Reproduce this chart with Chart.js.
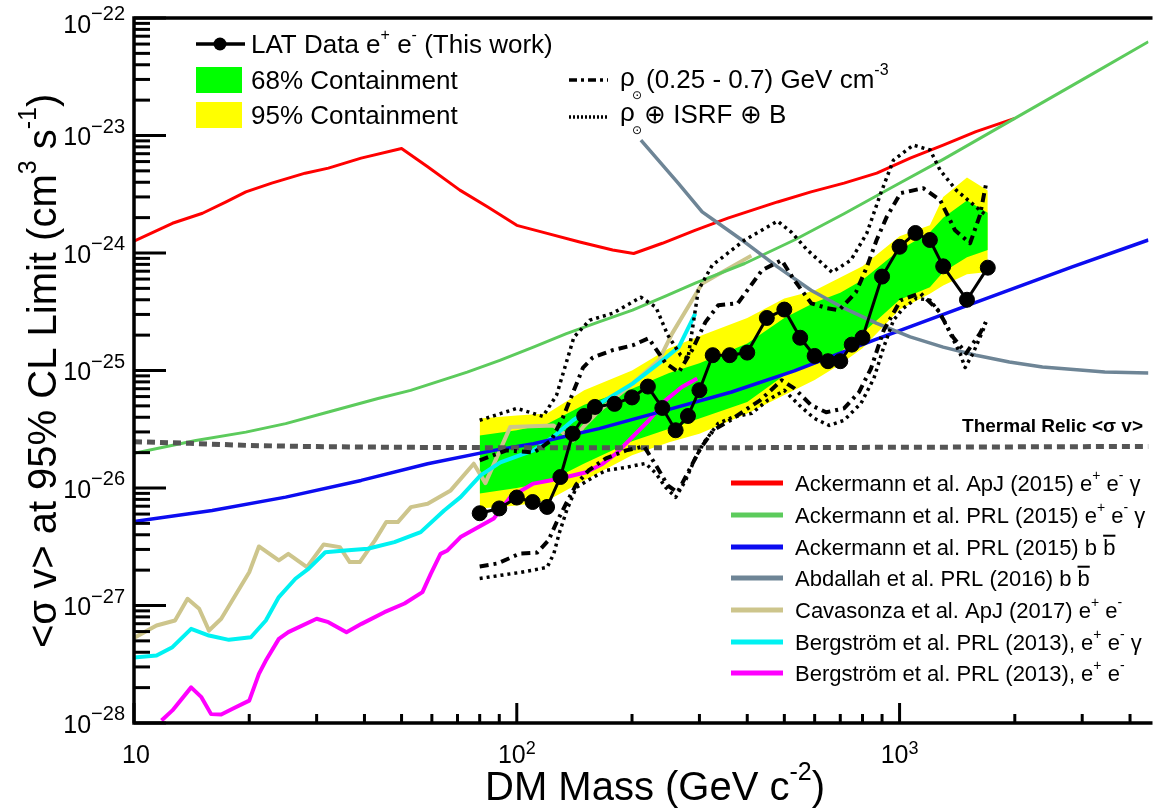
<!DOCTYPE html>
<html>
<head>
<meta charset="utf-8">
<script src="https://cdn.jsdelivr.net/npm/chart.js@4.4.1/dist/chart.umd.min.js"></script>
<style>
  html, body { margin: 0; padding: 0; background: #fff; }
  #wrap { width: 1157px; height: 808px; position: relative; }
</style>
</head>
<body>
<div id="wrap"><canvas id="c"></canvas></div>
<script>
// Límites <σv> frente a la masa de materia oscura.

// LAT data e+e- (this work)
const latMass  = [80, 90, 100, 110, 120, 130, 140, 150, 160, 180, 200, 220, 240, 260, 280, 300, 325, 360, 400, 450, 500, 550, 600, 650, 700, 750, 800, 900, 1000, 1100, 1200, 1300, 1500, 1700];
const latLimit = [6.1e-27, 6.7e-27, 8.3e-27, 7.6e-27, 6.9e-27, 1.24e-26, 2.9e-26, 4.1e-26, 4.9e-26, 5.2e-26, 5.9e-26, 7.3e-26, 4.8e-26, 3.1e-26, 4.1e-26, 6.8e-26, 1.35e-25, 1.35e-25, 1.42e-25, 2.8e-25, 3.3e-25, 1.9e-25, 1.33e-25, 1.2e-25, 1.2e-25, 1.66e-25, 1.9e-25, 6.3e-25, 1.13e-24, 1.48e-24, 1.29e-24, 7.7e-25, 4.0e-25, 7.5e-25];

// bandas de contención
const bandMass  = [80, 100, 120, 150, 200, 250, 300, 400, 500, 600, 700, 800, 1000, 1200, 1300, 1500, 1700];
const band95Hi  = [3.9e-26, 4.15e-26, 4.3e-26, 6.8e-26, 1.0e-25, 1.55e-25, 1.96e-25, 2.8e-25, 4.1e-25, 4.8e-25, 6.2e-25, 7.7e-25, 1.39e-24, 1.72e-24, 3.0e-24, 4.4e-24, 3.4e-24];
const band95Lo  = [6.7e-27, 7.1e-27, 7.8e-27, 1.16e-26, 1.9e-26, 2.45e-26, 2.9e-26, 4.3e-26, 6.2e-26, 8.3e-26, 1.13e-25, 1.55e-25, 3.3e-25, 4.5e-25, 5.3e-25, 6.6e-25, 6.9e-25];
const band68Hi  = [2.8e-26, 3.1e-26, 3.5e-26, 5.1e-26, 7.0e-26, 9.5e-26, 1.15e-25, 1.7e-25, 2.8e-25, 3.8e-25, 4.6e-25, 5.9e-25, 1.06e-24, 1.5e-24, 2.0e-24, 2.8e-24, 2.2e-24];
const band68Lo  = [9.0e-27, 1.0e-26, 1.12e-26, 1.62e-26, 2.5e-26, 3.2e-26, 3.9e-26, 5.4e-26, 9.1e-26, 1.17e-25, 1.43e-25, 2.07e-25, 4.0e-25, 5.1e-25, 6.9e-25, 9.2e-25, 1.06e-24];

// rho (0.25 - 0.7) GeV cm-3  (dash-dot)
const ddHiMass  = [80, 94, 111, 123, 132, 141, 149, 158, 178, 201, 221, 245, 265, 287, 311, 336, 378, 437, 492, 531, 588, 647, 695, 769, 821, 871, 925, 1006, 1153, 1276, 1396, 1528, 1622, 1680];
const ddHiLimit = [1.72e-26, 2.09e-26, 2.01e-26, 2.54e-26, 3.99e-26, 6.78e-26, 1.06e-25, 1.29e-25, 1.49e-25, 1.64e-25, 1.88e-25, 1.15e-25, 9.66e-26, 1.49e-25, 2.58e-25, 3.59e-25, 3.73e-25, 7.13e-25, 8.69e-25, 5.86e-25, 3.73e-25, 3.39e-25, 3.26e-25, 4.63e-25, 7.57e-25, 1.29e-24, 2.02e-24, 3.23e-24, 3.56e-24, 2.82e-24, 1.56e-24, 1.21e-24, 2.1e-24, 3.78e-24];
const ddLoMass  = [80, 89, 102, 113, 121, 127, 135, 143, 154, 171, 193, 215, 231, 248, 263, 280, 302, 326, 361, 394, 432, 492, 531, 588, 643, 716, 783, 842, 909, 1006, 1133, 1261, 1380, 1492, 1622, 1680];
const ddLoLimit = [2.15e-27, 2.28e-27, 2.77e-27, 2.82e-27, 3.58e-27, 5.09e-27, 7.53e-27, 1.07e-26, 1.41e-26, 1.79e-26, 2.09e-26, 2.26e-26, 1.56e-26, 1.05e-26, 9.18e-27, 1.36e-26, 2.17e-26, 3.1e-26, 3.77e-26, 4.58e-26, 5.57e-26, 8.26e-26, 7.05e-26, 5.06e-26, 4.41e-26, 4.76e-26, 6.52e-26, 1.04e-25, 2.2e-25, 3.96e-25, 4.55e-25, 3.26e-25, 1.92e-25, 1.4e-25, 2.07e-25, 2.58e-25];

// rho + ISRF + B  (dotted)
const dotHiMass  = [80, 100, 117, 127, 141, 155, 178, 211, 231, 248, 268, 280, 298, 324, 394, 480, 522, 574, 666, 746, 821, 893, 964, 1086, 1202, 1276, 1406, 1680];
const dotHiLimit = [3.77e-26, 4.76e-26, 4.07e-26, 6.15e-26, 1.92e-25, 2.68e-25, 3.07e-25, 4.2e-25, 3.45e-25, 2.0e-25, 1.35e-25, 1.27e-25, 4.82e-25, 7.87e-25, 1.29e-24, 1.87e-24, 1.5e-24, 1.06e-24, 6.86e-25, 8.69e-25, 1.47e-24, 3.23e-24, 6.17e-24, 8.28e-24, 7.52e-24, 5.07e-24, 3.43e-24, 2.1e-24];
const dotLoMass  = [80, 90, 102, 120, 125, 129, 135, 143, 158, 171, 193, 217, 231, 245, 260, 276, 293, 311, 336, 365, 411, 452, 500, 547, 598, 655, 716, 793, 857, 909, 964, 1023, 1107, 1202, 1276, 1355, 1439, 1483, 1556, 1652, 1680];
const dotLoLimit = [1.7e-27, 1.8e-27, 1.91e-27, 2.11e-27, 2.77e-27, 4.1e-27, 6.44e-27, 1.01e-26, 1.23e-26, 1.41e-26, 1.5e-26, 1.62e-26, 1.33e-26, 1.01e-26, 8.32e-27, 1.16e-26, 1.82e-26, 2.54e-26, 3.55e-26, 3.99e-26, 4.32e-26, 5.57e-26, 6.78e-26, 5.06e-26, 3.92e-26, 3.41e-26, 3.77e-26, 5.26e-26, 8.59e-26, 1.58e-25, 2.68e-25, 3.39e-25, 4.12e-25, 3.96e-25, 3.07e-25, 2.07e-25, 1.4e-25, 1.06e-25, 1.4e-25, 2.2e-25, 2.58e-25];

// Ackermann et al. ApJ (2015) e+e-γ
const redMass  = [10, 12.6, 15.1, 17.4, 19.6, 22.9, 28, 32.2, 39.2, 50, 58.5, 71, 84, 100, 120, 146, 178, 202, 240, 292, 356, 480, 587, 716, 872, 1066, 1300, 1583, 2000];
const redLimit = [1.26e-24, 1.79e-24, 2.18e-24, 2.72e-24, 3.31e-24, 3.93e-24, 4.78e-24, 5.28e-24, 6.42e-24, 7.76e-24, 5.41e-24, 3.43e-24, 2.46e-24, 1.72e-24, 1.47e-24, 1.24e-24, 1.06e-24, 9.9e-25, 1.21e-24, 1.56e-24, 1.98e-24, 2.72e-24, 3.31e-24, 3.93e-24, 4.78e-24, 6.42e-24, 8.28e-24, 1.08e-23, 1.4e-23];

// Ackermann et al. PRL (2015) e+e-γ
const greenMass  = [10, 14.5, 19.6, 24.9, 32.2, 43.4, 52.8, 74.2, 90.3, 110.5, 134.8, 164, 200.6, 244.6, 292.6, 394, 531, 716, 964, 1300, 2000, 3184, 4467];
const greenLimit = [1.97e-26, 2.54e-26, 2.99e-26, 3.53e-26, 4.43e-26, 5.77e-26, 6.78e-26, 9.7e-26, 1.22e-25, 1.58e-25, 2.06e-25, 2.59e-25, 3.26e-25, 4.29e-25, 5.53e-25, 8.14e-25, 1.29e-24, 2.16e-24, 3.68e-24, 6.27e-24, 1.4e-23, 3.33e-23, 6.28e-23];

// Ackermann et al. PRL (2015) b bbar
const blueMass  = [10, 16, 24.9, 39.2, 58.5, 87.1, 110.5, 164, 244.6, 364, 531, 857, 1556, 2825, 4467];
const blueLimit = [5.19e-27, 6.44e-27, 8.36e-27, 1.16e-26, 1.61e-26, 2.09e-26, 2.38e-26, 3.2e-26, 4.58e-26, 6.56e-26, 9.93e-26, 1.81e-25, 3.72e-25, 7.62e-25, 1.29e-24];

// Abdallah et al. PRL (2016) b bbar
const greyMass  = [211, 264, 305, 336, 394, 480, 587, 716, 872, 1066, 1300, 1583, 1935, 2362, 3436, 4467];
const greyLimit = [9.14e-24, 3.93e-24, 2.24e-24, 1.79e-24, 1.24e-24, 7.62e-25, 4.82e-25, 3.39e-25, 2.52e-25, 1.93e-25, 1.58e-25, 1.35e-25, 1.18e-25, 1.07e-25, 9.7e-26, 9.52e-26];

// Cavasonza et al. ApJ (2017) e+e-
const tanMass  = [10, 11.45, 12.8, 13.8, 14.8, 15.7, 16.9, 18.5, 20.0, 21.2, 23.9, 25.3, 28.3, 31.3, 34.5, 36.6, 38.9, 42.6, 45.6, 48.9, 52.9, 58.5, 67.2, 77.2, 82.8, 96.1, 124.5, 140.3, 149, 164.4, 200.6, 235, 254.5, 287, 305, 410];
const tanLimit = [5.3e-28, 6.76e-28, 7.45e-28, 1.14e-27, 9.38e-28, 6.12e-28, 7.71e-28, 1.26e-27, 1.92e-27, 3.18e-27, 2.42e-27, 2.75e-27, 2.12e-27, 3.31e-27, 3.14e-27, 2.34e-27, 2.34e-27, 3.58e-27, 5.13e-27, 5.13e-27, 6.87e-27, 7.35e-27, 9.54e-27, 1.61e-26, 1.1e-26, 3.3e-26, 3.41e-26, 2.54e-26, 3.3e-26, 4.58e-26, 7.73e-26, 1.22e-25, 2.06e-25, 3.96e-25, 5.5e-25, 9.5e-25];

// Bergström et al. PRL (2013) e+e-γ
const cyanMass  = [10, 11.45, 12.6, 14.1, 15.7, 17.7, 20.2, 22.1, 23.9, 26.4, 28.6, 31.6, 35.6, 40.8, 47.9, 56.1, 64.6, 71.3, 80.4, 90.6, 110.5, 124.4, 140.2, 164.4, 200.6, 235, 265, 292.6];
const cyanLimit = [3.61e-28, 3.75e-28, 4.42e-28, 6.33e-28, 5.55e-28, 5.1e-28, 5.37e-28, 7.45e-28, 1.18e-27, 1.69e-27, 2.06e-27, 2.84e-27, 2.94e-27, 3.04e-27, 3.46e-27, 4.21e-27, 6.44e-27, 8.36e-27, 1.28e-26, 1.65e-26, 2.09e-26, 2.72e-26, 3.77e-26, 5.22e-26, 7.73e-26, 1.15e-25, 1.58e-25, 3.05e-25];

// Bergström et al. PRL (2013) e+e-
const magMass  = [11.8, 12.6, 14.1, 15.0, 15.9, 16.9, 18.1, 20.0, 21.2, 22.1, 23.9, 25.3, 30.0, 32.2, 35.9, 39.3, 45.1, 50.9, 56.7, 59.6, 63.2, 65.9, 71.3, 87.1, 96.1, 110.5, 122, 134.8, 151.8, 167.7, 181.6, 200.6, 221.5, 244.6, 270, 296];
const magLimit = [1.05e-28, 1.28e-28, 2.01e-28, 1.66e-28, 1.19e-28, 1.18e-28, 1.32e-28, 1.55e-28, 2.62e-28, 3.4e-28, 5.2e-28, 5.93e-28, 7.71e-28, 7.21e-28, 5.93e-28, 6.98e-28, 8.77e-28, 1.04e-27, 1.3e-27, 1.86e-27, 2.75e-27, 2.94e-27, 3.82e-27, 5.51e-27, 8.36e-27, 1.09e-26, 1.16e-26, 1.24e-26, 1.36e-26, 1.61e-26, 1.96e-26, 2.72e-26, 3.77e-26, 5.57e-26, 7.23e-26, 8.53e-26];

// Thermal relic <σv>
const relicMass  = [10, 14, 20, 30, 50, 100, 300, 1000, 4467];
const relicLimit = [2.48e-26, 2.4e-26, 2.3e-26, 2.25e-26, 2.22e-26, 2.2e-26, 2.2e-26, 2.22e-26, 2.26e-26];

// ejes
const xTicks    = [10, 100, 1000];
const xTickExps = ['', '2', '3'];
const yTicks    = [1e-28, 1e-27, 1e-26, 1e-25, 1e-24, 1e-23, 1e-22];
const yTickExps = ['\u221228', '\u221227', '\u221226', '\u221225', '\u221224', '\u221223', '\u221222'];

// leyenda inferior: [texto, tipo] (tipo: sup / bar)
const refLabels = [
  [['Ackermann et al. ApJ (2015) e'], ['+', 'sup'], [' e'], ['-', 'sup'], [' \u03b3']],
  [['Ackermann et al. PRL (2015) e'], ['+', 'sup'], [' e'], ['-', 'sup'], [' \u03b3']],
  [['Ackermann et al. PRL (2015) b '], ['b', 'bar']],
  [['Abdallah et al. PRL (2016) b '], ['b', 'bar']],
  [['Cavasonza et al. ApJ (2017) e'], ['+', 'sup'], [' e'], ['-', 'sup']],
  [['Bergstr\u00f6m et al. PRL (2013), e'], ['+', 'sup'], [' e'], ['-', 'sup'], [' \u03b3']],
  [['Bergstr\u00f6m et al. PRL (2013), e'], ['+', 'sup'], [' e'], ['-', 'sup']]
];
const refColors = ['#ff0000', '#5ccb5c', '#0c0cf0', '#6e8596', '#cdc58c', '#00f2f2', '#ff00ff'];

const FONT = '"Liberation Sans", Arial, Helvetica, sans-serif';
const DASHDOT = [9, 5, 3, 5];
const DOTTED = [3, 4];

function pts(xs, ys) { return xs.map(function (x, i) { return { x: x, y: ys[i] }; }); }

function lineSet(label, xs, ys, color, width, order, dash) {
  return {
    label: label, data: pts(xs, ys),
    borderColor: color, backgroundColor: color, borderWidth: width,
    borderDash: dash || [], borderCapStyle: 'butt', borderJoinStyle: 'round',
    pointRadius: 0, fill: false, tension: 0, order: order
  };
}

function band(label, xs, ys, color, target, order) {
  return {
    label: label, data: pts(xs, ys), borderWidth: 0, borderColor: color,
    backgroundColor: color, pointRadius: 0, tension: 0, fill: target, order: order
  };
}

// texto con superíndices y barras
function rich(ctx, x, y, parts, size, draw) {
  var cx = x;
  parts.forEach(function (p) {
    var t = p[0], k = p[1], fs = size, dy = 0;
    if (k === 'sup') { fs = Math.round(size * 0.62); dy = -size * 0.5; }
    ctx.font = fs + 'px ' + FONT;
    var w = ctx.measureText(t).width;
    if (draw) {
      ctx.fillText(t, cx, y + dy);
      if (k === 'bar') ctx.fillRect(cx, y - size * 0.9, w, 2);
    }
    cx += w;
  });
  return cx - x;
}

const decor = {
  id: 'decor',
  afterDraw: function (chart) {
    var ctx = chart.ctx, a = chart.chartArea, sx = chart.scales.x, sy = chart.scales.y;
    ctx.save();
    ctx.fillStyle = '#000'; ctx.strokeStyle = '#000';
    ctx.textBaseline = 'alphabetic'; ctx.textAlign = 'left';

    // marco
    ctx.lineWidth = 3.5;
    ctx.beginPath();
    ctx.moveTo(a.right + 4, a.top); ctx.lineTo(a.left, a.top);
    ctx.lineTo(a.left, a.bottom); ctx.lineTo(a.right + 4, a.bottom);
    ctx.stroke();

    // marcas del eje y (hacia dentro)
    ctx.lineWidth = 3;
    yTicks.forEach(function (v) {
      for (var m = 1; m <= 9; m++) {
        var val = v * m;
        if (val > sy.max * 1.001) break;
        var py = sy.getPixelForValue(val);
        ctx.beginPath(); ctx.moveTo(a.left, py); ctx.lineTo(a.left + (m === 1 ? 32 : 16), py); ctx.stroke();
      }
    });
    // marcas del eje x
    xTicks.forEach(function (v) {
      for (var m = 1; m <= 9; m++) {
        var val = v * m;
        if (val > sx.max) break;
        var px = sx.getPixelForValue(val);
        ctx.beginPath(); ctx.moveTo(px, a.bottom); ctx.lineTo(px, a.bottom - (m === 1 ? 20 : 9)); ctx.stroke();
      }
    });

    // etiquetas del eje y
    yTicks.forEach(function (v, i) {
      var py = sy.getPixelForValue(v) + (i === yTicks.length - 1 ? 5 : 0);
      ctx.font = '20px ' + FONT; var we = ctx.measureText(yTickExps[i]).width;
      ctx.font = '25px ' + FONT; var wb = ctx.measureText('10').width;
      ctx.fillText('10', 125 - we - wb, py + 9.5);
      ctx.font = '20px ' + FONT; ctx.fillText(yTickExps[i], 125 - we, py - 3);
    });
    // etiquetas del eje x
    xTicks.forEach(function (v, i) {
      var px = sx.getPixelForValue(v);
      ctx.font = '18px ' + FONT; var we = ctx.measureText(xTickExps[i]).width;
      ctx.font = '25px ' + FONT; var wb = ctx.measureText('10').width;
      var x0 = px - (wb + we) / 2 + (i === 0 ? 2 : 0);
      ctx.fillText('10', x0, a.bottom + 40);
      ctx.font = '18px ' + FONT; ctx.fillText(xTickExps[i], x0 + wb, a.bottom + 31);
    });

    // títulos
    var xt = [['DM Mass (GeV c'], ['-2', 'sup'], [')']];
    var wx = rich(ctx, 0, 0, xt, 40, false);
    rich(ctx, 655 - wx / 2, 800, xt, 40, true);

    ctx.save();
    ctx.translate(56, 648); ctx.rotate(-Math.PI / 2);
    rich(ctx, 0, 0, [['<\u03c3 v> at 95% CL Limit (cm'], ['3', 'sup'], [' s'], ['-1', 'sup'], [')']], 40, true);
    ctx.restore();

    // leyenda superior izquierda
    ctx.lineWidth = 3.5;
    ctx.beginPath(); ctx.moveTo(196, 44); ctx.lineTo(245, 44); ctx.stroke();
    ctx.beginPath(); ctx.arc(220, 44, 6.5, 0, Math.PI * 2); ctx.fill();
    rich(ctx, 251, 53, [['LAT Data e'], ['+', 'sup'], [' e'], ['-', 'sup'], [' (This work)']], 26, true);
    ctx.fillStyle = '#00ff00'; ctx.fillRect(196, 67, 46, 26);
    ctx.fillStyle = '#ffff00'; ctx.fillRect(196, 102, 46, 26);
    ctx.fillStyle = '#000';
    rich(ctx, 251, 89, [['68% Containment']], 26, true);
    rich(ctx, 251, 124, [['95% Containment']], 26, true);

    // leyenda de perfiles
    ctx.lineWidth = 3.5;
    ctx.setLineDash([8, 4, 3, 4]);
    ctx.beginPath(); ctx.moveTo(569, 80); ctx.lineTo(608, 80); ctx.stroke();
    ctx.setLineDash([2, 2]);
    ctx.beginPath(); ctx.moveTo(569, 117); ctx.lineTo(608, 117); ctx.stroke();
    ctx.setLineDash([]);
    ctx.font = '26px ' + FONT; ctx.fillText('\u03c1', 620, 86);
    ctx.font = '12px "DejaVu Sans", sans-serif'; ctx.fillText('\u2299', 632, 99);
    rich(ctx, 646, 88, [['(0.25 - 0.7) GeV cm'], ['-3', 'sup']], 26, true);
    ctx.font = '26px ' + FONT; ctx.fillText('\u03c1', 620, 121);
    ctx.font = '12px "DejaVu Sans", sans-serif'; ctx.fillText('\u2299', 632, 134);
    rich(ctx, 644, 123, [['\u2295 ISRF \u2295 B']], 26, true);

    // reliquia térmica
    ctx.font = 'bold 19px ' + FONT; ctx.textAlign = 'right';
    ctx.fillText('Thermal Relic <\u03c3 v>', 1143, 432);
    ctx.textAlign = 'left';

    // leyenda inferior derecha
    var ly = [483, 515, 547, 578, 610, 642, 673];
    refLabels.forEach(function (lab, i) {
      ctx.strokeStyle = refColors[i]; ctx.lineWidth = 5;
      ctx.beginPath(); ctx.moveTo(731, ly[i]); ctx.lineTo(783, ly[i]); ctx.stroke();
      ctx.fillStyle = '#000';
      rich(ctx, 795, ly[i] + 7.5, lab, 22, true);
    });
    ctx.restore();
  }
};

const datasets = [
  band('95% hi', bandMass, band95Hi, '#ffff00', 1, 40),
  band('95% lo', bandMass, band95Lo, '#ffff00', false, 39),
  band('68% hi', bandMass, band68Hi, '#00ff00', 3, 38),
  band('68% lo', bandMass, band68Lo, '#00ff00', false, 37),
  lineSet('Cavasonza', tanMass, tanLimit, '#cdc58c', 4, 20),
  lineSet('Bergstrom eeg', cyanMass, cyanLimit, '#00f2f2', 4, 19),
  lineSet('Bergstrom ee', magMass, magLimit, '#ff00ff', 4, 18),
  lineSet('Ackermann ApJ', redMass, redLimit, '#ff0000', 3, 17),
  lineSet('Ackermann PRL eeg', greenMass, greenLimit, '#5ccb5c', 3, 16),
  lineSet('Ackermann PRL bb', blueMass, blueLimit, '#0c0cf0', 3.5, 15),
  lineSet('Abdallah', greyMass, greyLimit, '#6e8596', 3.5, 14),
  lineSet('Thermal relic', relicMass, relicLimit, '#555555', 5, 10, [8, 5]),
  lineSet('rho hi', ddHiMass, ddHiLimit, '#000', 4, 8, DASHDOT),
  lineSet('rho lo', ddLoMass, ddLoLimit, '#000', 4, 7, DASHDOT),
  lineSet('isrf hi', dotHiMass, dotHiLimit, '#000', 3.5, 6, DOTTED),
  lineSet('isrf lo', dotLoMass, dotLoLimit, '#000', 3.5, 5, DOTTED),
  Object.assign(lineSet('LAT', latMass, latLimit, '#000', 3, 0), {
    pointRadius: 7.5, pointBackgroundColor: '#000', pointBorderColor: '#000', pointBorderWidth: 1
  })
];

new Chart(document.getElementById('c'), {
  type: 'line',
  data: { datasets: datasets },
  options: {
    responsive: true,
    maintainAspectRatio: false,
    animation: false,
    layout: { padding: { left: 134, top: 18, right: 0, bottom: 85 } },
    plugins: { legend: { display: false }, tooltip: { enabled: false } },
    scales: {
      x: { type: 'logarithmic', min: 10, max: 4470, display: false },
      y: { type: 'logarithmic', min: 1e-28, max: 1e-22, display: false }
    }
  },
  plugins: [decor]
});
</script>
</body>
</html>
